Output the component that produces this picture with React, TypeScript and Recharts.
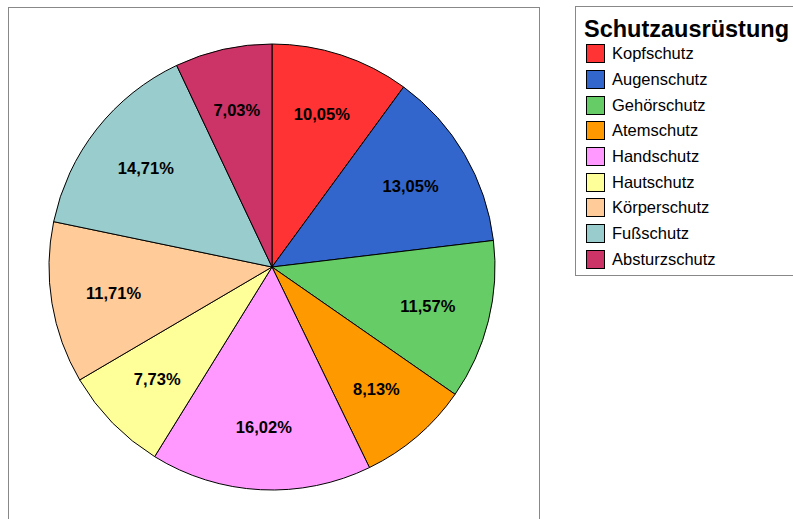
import React from 'react';
import { PieChart, Pie, Cell, Legend } from 'recharts';

const categories = [
  'Kopfschutz',
  'Augenschutz',
  'Gehörschutz',
  'Atemschutz',
  'Handschutz',
  'Hautschutz',
  'Körperschutz',
  'Fußschutz',
  'Absturzschutz',
];
const shares = [10.05, 13.05, 11.57, 8.13, 16.02, 7.73, 11.71, 14.71, 7.03];
const colors = ['#ff3333', '#3366cc', '#66cc66', '#ff9900', '#ff99ff', '#ffff99', '#ffcc99', '#99cccc', '#cc3366'];
const legendTitle = 'Schutzausrüstung';

const data = categories.map((name, i) => ({ name, value: shares[i] }));

const FONT = '"Liberation Sans", Arial, Helvetica, sans-serif';
const RAD = Math.PI / 180;

const renderLabel = (props: any) => {
  const { cx, cy, midAngle, outerRadius, value } = props;
  const r = outerRadius * 0.72;
  const x = cx + r * Math.cos(-midAngle * RAD);
  const y = cy + r * Math.sin(-midAngle * RAD);
  return (
    <text
      x={x}
      y={y}
      textAnchor="middle"
      dominantBaseline="central"
      fontFamily={FONT}
      fontWeight="bold"
      fontSize={16.5}
      fill="#000"
    >
      {value.toFixed(2).replace('.', ',')}%
    </text>
  );
};

const renderLegend = () => (
  <div
    style={{
      border: '1px solid #888',
      padding: '10px 12px 3px 10px',
      width: 240,
      boxSizing: 'border-box',
      background: '#fff',
      fontFamily: FONT,
    }}
  >
    <div style={{ fontWeight: 'bold', fontSize: 23.5, lineHeight: '24px', color: '#000', marginLeft: -2 }}>
      {legendTitle}
    </div>
    {categories.map((name, i) => (
      <div key={name} style={{ display: 'flex', alignItems: 'center', height: 25.7 }}>
        <span
          style={{
            display: 'inline-block',
            width: 17,
            height: 17,
            background: colors[i],
            border: '1px solid #000',
            marginRight: 7,
          }}
        />
        <span style={{ fontSize: 16.5, color: '#000' }}>{name}</span>
      </div>
    ))}
  </div>
);

export default function App() {
  return (
    <div style={{ position: 'absolute', left: 0, top: 0, width: 793, height: 519, overflow: 'hidden', background: '#fff' }}>
      <div
        style={{
          position: 'absolute',
          left: 8,
          top: 7,
          width: 532,
          height: 530,
          border: '1px solid #888',
          boxSizing: 'border-box',
        }}
      />
      <PieChart width={793} height={519} style={{ position: 'absolute', left: 0, top: 0 }}>
        <Pie
          data={data}
          dataKey="value"
          nameKey="name"
          cx={267}
          cy={262}
          outerRadius={223}
          startAngle={90}
          endAngle={-270}
          stroke="#000"
          strokeWidth={1}
          label={renderLabel}
          labelLine={false}
          isAnimationActive={false}
        >
          {data.map((d, i) => (
            <Cell key={d.name} fill={colors[i]} />
          ))}
        </Pie>
        <Legend
          content={renderLegend}
          layout="vertical"
          wrapperStyle={{ position: 'absolute', left: 575, top: 6, width: 240 }}
        />
      </PieChart>
    </div>
  );
}
